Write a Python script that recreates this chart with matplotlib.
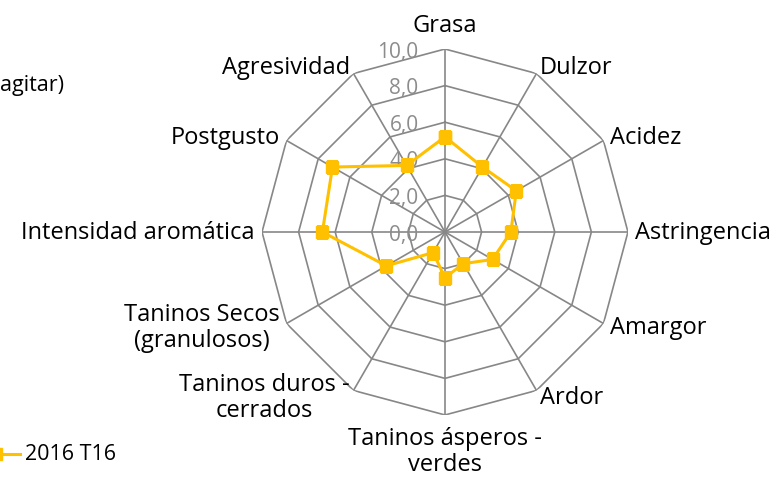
import numpy as np
import matplotlib.pyplot as plt
from matplotlib.lines import Line2D

# descriptores del panel sensorial
categorias = ["Grasa", "Dulzor", "Acidez", "Astringencia", "Amargor", "Ardor",
              "Taninos ásperos -\nverdes", "Taninos duros -\ncerrados",
              "Taninos Secos\n(granulosos)", "Intensidad aromática",
              "Postgusto", "Agresividad"]
valores_2016_t16 = [5.2, 4.1, 4.5, 3.6, 3.0, 2.0, 2.5, 1.3, 3.7, 6.7, 7.1, 4.2]
niveles = [0, 2, 4, 6, 8, 10]
serie = "2016 T16"

amarillo = "#FFC000"
gris = "#878787"
plt.rcParams['font.family'] = ['Open Sans', 'DejaVu Sans']
fs = 17

fig = plt.figure(figsize=(7.77, 4.85), dpi=100)
ax = fig.add_axes([0.5727 - 0.2355, 0.5196 - 0.3773, 0.471, 0.7546], projection='polar')
ax.set_theta_zero_location('N')
ax.set_theta_direction(-1)
ax.set_ylim(0, 10)
ax.set_xticks([])
ax.set_yticks([])
ax.grid(False)
ax.spines['polar'].set_visible(False)
ax.set_facecolor('none')

n = len(categorias)
ang = np.linspace(0, 2 * np.pi, n, endpoint=False)
ang_c = np.append(ang, ang[0])

# rejilla poligonal y radios
for v in niveles[1:]:
    ax.plot(ang_c, [v] * (n + 1), color=gris, lw=1.2, zorder=1)
for a in ang:
    ax.plot([a, a], [0, 10], color=gris, lw=1.2, zorder=1)

# etiquetas del eje radial
for v in niveles:
    ax.annotate(f"{v:.1f}".replace(".", ","), xy=(0, v), xytext=(-19, -1.5),
                textcoords='offset points', ha='right', va='center',
                fontsize=15, color="#8c8c8c", zorder=2)

# serie
vals = np.append(valores_2016_t16, valores_2016_t16[0])
ax.plot(ang_c, vals, color=amarillo, lw=2.2, marker='s', markersize=8, zorder=3)

# nombres de los descriptores
for a, nombre in zip(ang, categorias):
    grados = np.degrees(a)
    if np.isclose(grados, 0):
        ax.text(a, 11.0, nombre, ha='center', va='baseline', fontsize=fs)
    elif np.isclose(grados, 180):
        ax.text(a, 10.6, nombre, ha='center', va='top', fontsize=fs,
                linespacing=1.1)
    elif grados < 180:
        ax.text(a, 10.4, nombre, ha='left', va='center', fontsize=fs,
                multialignment='center', linespacing=1.1)
    else:
        ax.text(a, 10.4, nombre, ha='right', va='center', fontsize=fs,
                multialignment='center', linespacing=1.1)

# restos de la leyenda
fig.text(0.0, 1 - 85 / 485, "agitar)", ha='left', va='center', fontsize=15.5)
y_ley = 1 - 455 / 485
fig.add_artist(Line2D([-0.03, 0.026], [y_ley] * 2, color=amarillo, lw=2.2,
                      transform=fig.transFigure))
fig.add_artist(Line2D([-0.0055], [y_ley], color=amarillo, marker='s', markersize=8,
                      transform=fig.transFigure))
fig.text(0.032, y_ley, serie, ha='left', va='center', fontsize=15.5)

fig.savefig("out.png", dpi=100)
